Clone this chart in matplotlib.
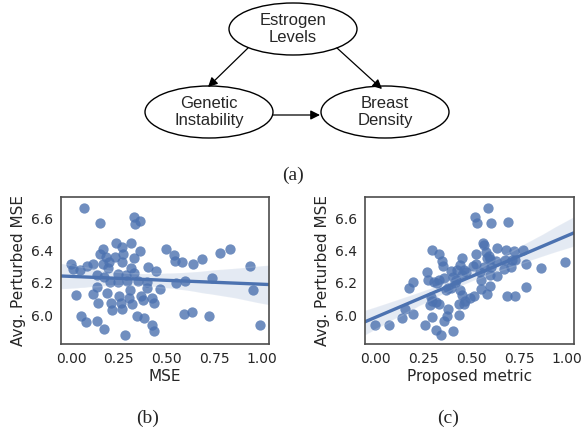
import numpy as np
import matplotlib
matplotlib.use("Agg")
import matplotlib.pyplot as plt
from matplotlib.patches import Ellipse
import seaborn as sns

# panel (b): MSE vs avg. perturbed MSE
mse_x = [0.07, 0.152, 0.331, 0.361, 0.335, 0.236, 0.312, 0.265, 0.169, 0.361,
         0.152, 0.274, 0.23, 0.183, 0.331, 0.20, 0.265, 0.166, -0.002, 0.114,
         0.082, 0.012, 0.047, 0.192, 0.314, 0.405, 0.445, 0.138, 0.173, 0.248,
         0.288, 0.33, 0.204, 0.248, 0.291, 0.349, 0.396, 0.134, 0.309, 0.40,
         0.466, 0.025, 0.117, 0.187, 0.251, 0.305, 0.366, 0.143, 0.208, 0.262,
         0.321, 0.379, 0.426, 0.436, 0.213, 0.265, 0.052, 0.077, 0.138, 0.344,
         0.384, 0.173, 0.422, 0.436, 0.283, 0.50, 0.539, 0.545, 0.58, 0.64,
         0.687, 0.78, 0.832, 0.94, 0.955, 0.99, 0.55, 0.597, 0.74, 0.593,
         0.635, 0.724]
mse_y = [6.666, 6.57, 6.61, 6.584, 6.565, 6.45, 6.445, 6.42, 6.41, 6.40,
         6.38, 6.38, 6.36, 6.358, 6.356, 6.33, 6.33, 6.315, 6.315, 6.317,
         6.304, 6.286, 6.28, 6.29, 6.29, 6.30, 6.273, 6.248, 6.234, 6.255,
         6.248, 6.259, 6.203, 6.203, 6.211, 6.211, 6.203, 6.172, 6.155, 6.17,
         6.16, 6.124, 6.13, 6.135, 6.12, 6.104, 6.12, 6.073, 6.073, 6.076,
         6.068, 6.097, 6.104, 6.073, 6.035, 6.041, 5.996, 5.955, 5.965, 5.994,
         5.98, 5.911, 5.938, 5.90, 5.876, 6.41, 6.373, 6.337, 6.327, 6.317,
         6.348, 6.383, 6.408, 6.306, 6.155, 5.938, 6.197, 6.213, 6.228, 6.006,
         6.017, 5.994]

# panel (c): proposed metric vs avg. perturbed MSE
prop_x = [0.0, 0.073, 0.143, 0.154, 0.20, 0.175, 0.196, 0.262, 0.297, 0.319,
          0.344, 0.361, 0.375, 0.379, 0.405, 0.438, 0.27, 0.276, 0.297, 0.335,
          0.349, 0.352, 0.305, 0.323, 0.332, 0.358, 0.379, 0.372, 0.293, 0.297,
          0.288, 0.318, 0.333, 0.398, 0.407, 0.428, 0.454, 0.445, 0.424, 0.415,
          0.462, 0.475, 0.454, 0.398, 0.442, 0.454, 0.436, 0.462, 0.471, 0.497,
          0.515, 0.511, 0.524, 0.52, 0.529, 0.588, 0.602, 0.695, 0.562, 0.567,
          0.527, 0.578, 0.595, 0.586, 0.6, 0.634, 0.681, 0.724, 0.773, 0.675,
          0.712, 0.729, 0.707, 0.672, 0.785, 0.864, 0.99, 0.632, 0.567, 0.545,
          0.55, 0.6, 0.637, 0.598, 0.55, 0.586, 0.686, 0.729, 0.787, 0.602]
prop_y = [5.938, 5.938, 5.983, 6.041, 6.006, 6.17, 6.207, 5.942, 5.99, 5.907,
          5.876, 5.963, 5.994, 6.037, 5.903, 6.004, 6.27, 6.22, 6.404, 6.379,
          6.337, 6.306, 6.207, 6.197, 6.217, 6.232, 6.17, 6.155, 6.114, 6.089,
          6.066, 6.079, 6.072, 6.275, 6.234, 6.283, 6.356, 6.31, 6.217, 6.2,
          6.279, 6.269, 6.248, 6.166, 6.155, 6.124, 6.072, 6.072, 6.089, 6.108,
          6.12, 6.304, 6.317, 6.61, 6.569, 6.668, 6.569, 6.58, 6.449, 6.435,
          6.379, 6.393, 6.368, 6.352, 6.35, 6.414, 6.404, 6.40, 6.404, 6.34,
          6.34, 6.345, 6.30, 6.286, 6.317, 6.29, 6.327, 6.335, 6.296, 6.269,
          6.217, 6.248, 6.242, 6.182, 6.162, 6.13, 6.118, 6.118, 6.176, 6.30]

xticks = [0.0, 0.25, 0.5, 0.75, 1.0]
yticks = [6.0, 6.2, 6.4, 6.6]

# diagram nodes (pixel centres) and arrows
nodes = {"Estrogen\nLevels": (293, 29), "Genetic\nInstability": (209, 112),
         "Breast\nDensity": (385, 112)}
edges = [((248, 48), (208, 87)), ((337, 48), (382, 89)), ((273, 115), (320, 115))]

sns.set_style("white")
blue = "#4C72B0"

fig = plt.figure(figsize=(5.84, 4.34), dpi=100)

# overlay axes in pixel coordinates for the diagram and captions
bg = fig.add_axes([0, 0, 1, 1])
bg.set_xlim(0, 584)
bg.set_ylim(434, 0)
bg.axis("off")
for label, (cx, cy) in nodes.items():
    bg.add_patch(Ellipse((cx, cy), 128, 52, fc="white", ec="black", lw=1.0))
    bg.text(cx, cy, label, ha="center", va="center", fontsize=12,
            family="Liberation Sans", linespacing=1.2)
for (x0, y0), (x1, y1) in edges:
    bg.annotate("", xy=(x1, y1), xytext=(x0, y0),
                arrowprops=dict(arrowstyle="-|>", color="black", lw=0.9,
                                mutation_scale=14, shrinkA=0, shrinkB=0))
for txt, x in [("(a)", 293), ("(b)", 148), ("(c)", 448)]:
    y = 175 if txt == "(a)" else 418
    bg.text(x, y, txt, ha="center", va="center", fontsize=14,
            family="Liberation Serif")

panels = [
    ([0.1045, 0.207, 0.356, 0.339], mse_x, mse_y, "MSE"),
    ([0.625, 0.207, 0.358, 0.339], prop_x, prop_y, "Proposed metric"),
]
for rect, xs, ys, xlabel in panels:
    ax = fig.add_axes(rect)
    ax.set_xlim(-0.052, 1.037)
    ax.set_ylim(5.82, 6.733)
    sns.regplot(x=np.array(xs), y=np.array(ys), ax=ax, color=blue,
                truncate=False, seed=0,
                scatter_kws=dict(s=55, alpha=0.8, linewidths=0),
                line_kws=dict(lw=2.4))
    ax.set_xlim(-0.052, 1.037)
    ax.set_ylim(5.82, 6.733)
    ax.set_xticks(xticks)
    ax.set_yticks(yticks)
    ax.tick_params(labelsize=10, colors="#262626", pad=2)
    ax.set_xlabel(xlabel, fontsize=11, color="#262626", labelpad=2)
    ax.set_ylabel("Avg. Perturbed MSE", fontsize=11, color="#262626", labelpad=4)
    for sp in ax.spines.values():
        sp.set_color("#4d4d4d")
        sp.set_linewidth(1.2)

fig.savefig("out.png", dpi=100)
